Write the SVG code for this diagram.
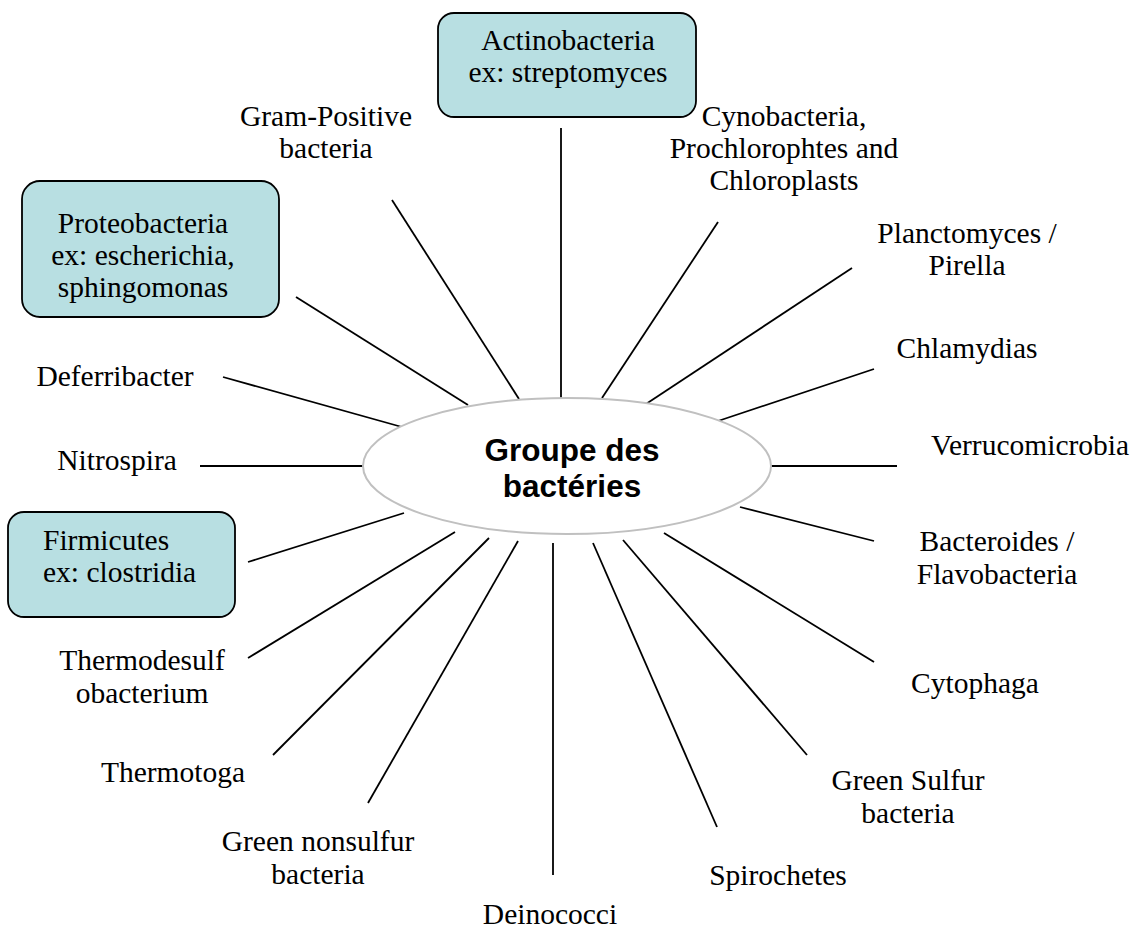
<svg xmlns="http://www.w3.org/2000/svg" width="1141" height="931" viewBox="0 0 1141 931">
<style>
.t{font-family:"Liberation Serif","Times New Roman",serif;font-size:29.5px;fill:#000;text-anchor:middle}
.l{text-anchor:start}
.box{fill:#b8dfe2;stroke:#000;stroke-width:1.8}
.c line{stroke:#000;stroke-width:1.8}
.hub{fill:#fff;stroke:#c0c0c0;stroke-width:2}
.hubt{font-family:"Liberation Sans",Arial,sans-serif;font-weight:bold;font-size:31.5px;text-anchor:middle;fill:#000}
</style>
<rect width="1141" height="931" fill="#fff"/>
<g id="connectors" class="c">
<line x1="561" y1="128" x2="561" y2="398"/>
<line x1="392" y1="200" x2="519" y2="399"/>
<line x1="296" y1="297" x2="468" y2="405"/>
<line x1="223" y1="377" x2="402" y2="427"/>
<line x1="200" y1="466" x2="363" y2="466"/>
<line x1="248" y1="562" x2="404" y2="513"/>
<line x1="248" y1="658" x2="455" y2="532"/>
<line x1="273" y1="755" x2="489" y2="538"/>
<line x1="368" y1="803" x2="518" y2="541"/>
<line x1="553" y1="543" x2="553" y2="875"/>
<line x1="593" y1="543" x2="717" y2="827"/>
<line x1="623" y1="540" x2="807" y2="755"/>
<line x1="664" y1="533" x2="874" y2="662"/>
<line x1="740" y1="507" x2="874" y2="541"/>
<line x1="771" y1="466" x2="897" y2="466"/>
<line x1="718" y1="421" x2="874" y2="369"/>
<line x1="646" y1="404" x2="852" y2="268"/>
<line x1="602" y1="398" x2="718" y2="222"/>
</g>
<g id="hub">
<ellipse class="hub" cx="567" cy="466" rx="204" ry="68"/>
<text class="hubt" x="572" y="461">Groupe des</text>
<text class="hubt" x="572" y="497">bactéries</text>
</g>
<g id="actinobacteria">
<rect class="box" x="438" y="13" width="258" height="104" rx="16"/>
<text class="t" x="568" y="50">Actinobacteria</text>
<text class="t" x="568" y="82">ex: streptomyces</text>
</g>
<g id="proteobacteria">
<rect class="box" x="22" y="181" width="257" height="136" rx="18"/>
<text class="t" x="143" y="233">Proteobacteria</text>
<text class="t" x="143" y="265">ex: escherichia,</text>
<text class="t" x="143" y="297">sphingomonas</text>
</g>
<g id="firmicutes">
<rect class="box" x="8" y="512" width="227" height="105" rx="16"/>
<text class="t l" x="43" y="550">Firmicutes</text>
<text class="t l" x="43" y="582">ex: clostridia</text>
</g>
<g id="gram-positive">
<text class="t" x="326" y="126">Gram-Positive</text>
<text class="t" x="326" y="158">bacteria</text>
</g>
<g id="cynobacteria">
<text class="t" x="784" y="126">Cynobacteria,</text>
<text class="t" x="784" y="158">Prochlorophtes and</text>
<text class="t" x="784" y="190">Chloroplasts</text>
</g>
<g id="planctomyces">
<text class="t" x="967" y="243">Planctomyces /</text>
<text class="t" x="967" y="275">Pirella</text>
</g>
<g id="chlamydias"><text class="t" x="967" y="358">Chlamydias</text></g>
<g id="verrucomicrobia"><text class="t" x="1030" y="455">Verrucomicrobia</text></g>
<g id="bacteroides">
<text class="t" x="997" y="551">Bacteroides /</text>
<text class="t" x="997" y="584">Flavobacteria</text>
</g>
<g id="cytophaga"><text class="t" x="975" y="693">Cytophaga</text></g>
<g id="green-sulfur">
<text class="t" x="908" y="790">Green Sulfur</text>
<text class="t" x="908" y="823">bacteria</text>
</g>
<g id="spirochetes"><text class="t" x="778" y="885">Spirochetes</text></g>
<g id="deinococci"><text class="t" x="550" y="924">Deinococci</text></g>
<g id="green-nonsulfur">
<text class="t" x="318" y="851">Green nonsulfur</text>
<text class="t" x="318" y="884">bacteria</text>
</g>
<g id="thermotoga"><text class="t" x="173" y="782">Thermotoga</text></g>
<g id="thermodesulfobacterium">
<text class="t" x="142" y="670">Thermodesulf</text>
<text class="t" x="142" y="703">obacterium</text>
</g>
<g id="nitrospira"><text class="t" x="117" y="470">Nitrospira</text></g>
<g id="deferribacter"><text class="t" x="115" y="386">Deferribacter</text></g>
</svg>
